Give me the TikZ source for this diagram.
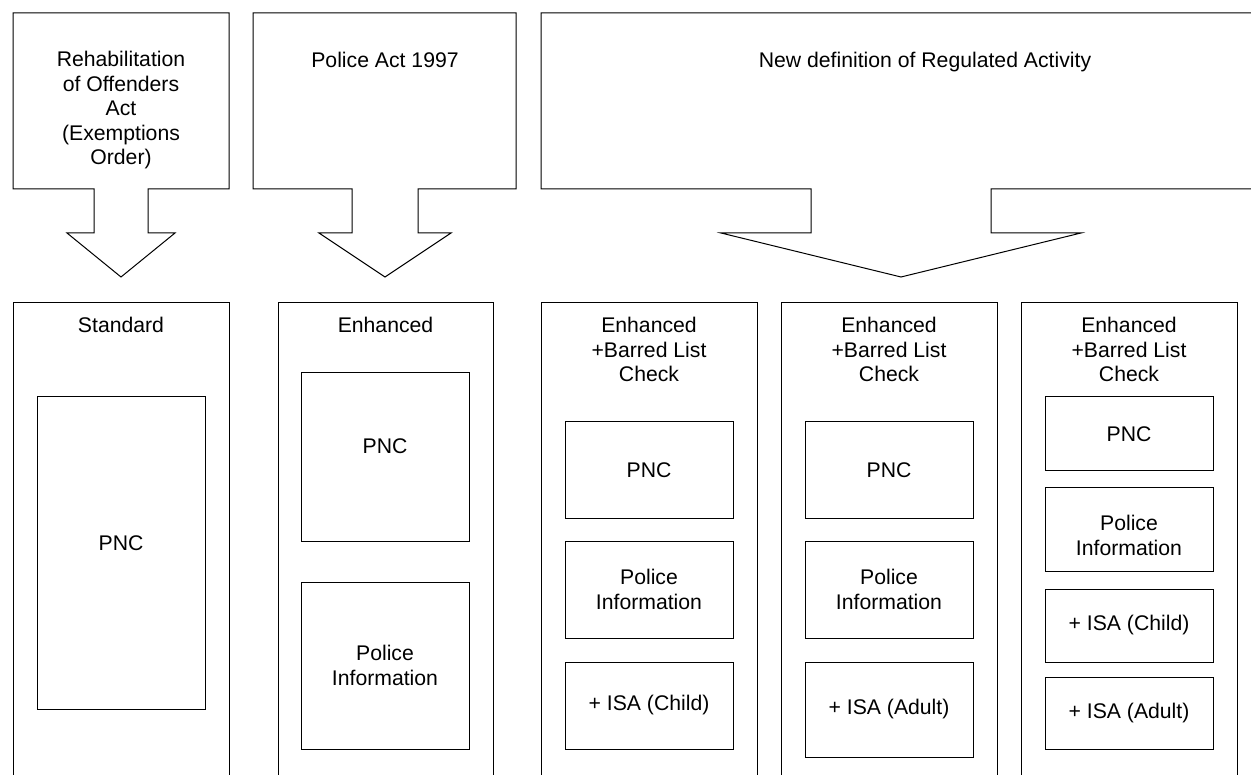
\documentclass[tikz,border=0pt]{standalone}
\usepackage{fontspec}
\setmainfont{Liberation Sans}

\begin{document}
\begin{tikzpicture}[x=1pt, y=-1pt, line width=1pt, lawarrow/.style={draw, line join=miter}, column/.style={rectangle, draw, minimum width=216pt, minimum height=520pt, anchor=north west, inner sep=0pt}, checkbox/.style={rectangle, draw, minimum width=168pt, align=center, inner sep=0pt, font=\fontsize{21.2}{24.5}\selectfont}, txt/.style={align=center, inner sep=0pt, anchor=base, font=\fontsize{21.2}{24.5}\selectfont}]

  \useasboundingbox (0,0) rectangle (1251,775);
  \clip (0,0) rectangle (1251,775);

  % laws
  \draw[lawarrow] (13,13) -- (229,13) -- (229,189) -- (148,189) -- (148,233) -- (175,233) -- (121,277) -- (67,233) -- (94,233) -- (94,189) -- (13,189) -- cycle;
  \draw[lawarrow] (253,13) -- (516,13) -- (516,189) -- (418,189) -- (418,233) -- (451,233) -- (385,277) -- (319,233) -- (352,233) -- (352,189) -- (253,189) -- cycle;
  \draw[lawarrow] (541,13) -- (1310,13) -- (1310,189) -- (991,189) -- (991,233) -- (1081,233) -- (901,277) -- (721,233) -- (811,233) -- (811,189) -- (541,189) -- cycle;

  % base of a block of lines is its last line
  \node[txt] (rehabact) at (121,164.6) {Rehabilitation\\of Offenders\\Act\\(Exemptions\\Order)};
  \node[txt] (policeact) at (385,67.6) {Police Act 1997};
  \node[txt] (regactivity) at (925,67.6) {New definition of Regulated Activity};

  % check levels
  \node[column] (standard) at (13,302) {};
  \node[column, minimum width=215pt] (enhanced) at (278,302) {};
  \node[column] (barredchild) at (541,302) {};
  \node[column] (barredadult) at (781,302) {};
  \node[column] (barredboth) at (1021,302) {};

  \node[txt] (standardhead) at (121,332.6) {Standard};
  \node[txt] (enhancedhead) at (385.5,332.6) {Enhanced};
  \node[txt] (barredchildhead) at (649,381.6) {Enhanced\\+Barred List\\Check};
  \node[txt] (barredadulthead) at (889,381.6) {Enhanced\\+Barred List\\Check};
  \node[txt] (barredbothhead) at (1129,381.6) {Enhanced\\+Barred List\\Check};

  % standard
  \node[checkbox, minimum height=312pt, text depth=20pt] (standardpnc) at (121,553) {PNC};

  % enhanced
  \node[checkbox, minimum height=168pt, text depth=22pt] (enhancedpnc) at (385,457) {PNC};
  \node[checkbox, minimum height=167pt] (enhancedpolice) at (385,665.5) {Police\\Information};

  % enhanced + barred list, child
  \node[checkbox, minimum height=96pt] (childpnc) at (649,470) {PNC};
  \node[checkbox, minimum height=97pt] (childpolice) at (649,589.5) {Police\\Information};
  \node[checkbox, minimum height=87pt] (childisa) at (649,705.5) {+ ISA (Child)};

  % enhanced + barred list, adult
  \node[checkbox, minimum height=96pt] (adultpnc) at (889,470) {PNC};
  \node[checkbox, minimum height=97pt] (adultpolice) at (889,589.5) {Police\\Information};
  \node[checkbox, minimum height=95pt] (adultisa) at (889,709.5) {+ ISA (Adult)};

  % enhanced + barred list, both
  \node[checkbox, minimum height=74pt] (bothpnc) at (1129,434) {PNC};
  \node[checkbox, minimum height=83pt, text height=52pt] (bothpolice) at (1129,529.5) {Police\\Information};
  \node[checkbox, minimum height=73pt] (bothchild) at (1129,625.5) {+ ISA (Child)};
  \node[checkbox, minimum height=72pt] (bothadult) at (1129,713) {+ ISA (Adult)};
\end{tikzpicture}
\end{document}
